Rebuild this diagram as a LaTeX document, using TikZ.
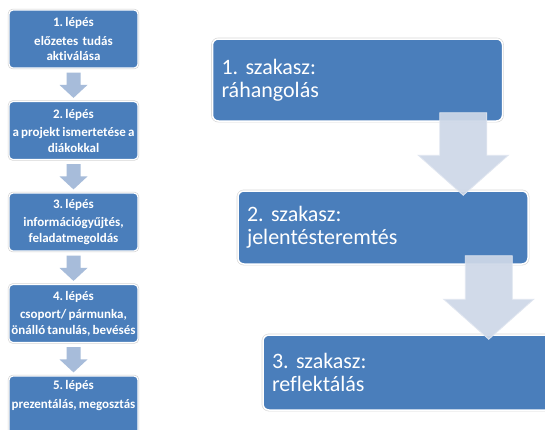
\documentclass[tikz,border=0pt]{standalone}
\usepackage{fontspec}
\setmainfont{Carlito}[Ligatures=NoCommon, WordSpace=0.75]
\usepackage{xcolor}
\usetikzlibrary{calc}

\definecolor{dobozkek}{RGB}{74,126,187}
\definecolor{kisnyilszin}{RGB}{167,188,218}
\definecolor{nagynyilszin}{RGB}{206,216,232}

\tikzset{
  lepesdoboz/.style={rectangle, rounded corners=4pt, fill=dobozkek, text=white,
    draw=white, line width=1.2pt, preaction={draw=black!18, line width=2.4pt},
    minimum width=129pt, minimum height=58pt, inner sep=1pt,
    font=\bfseries\fontsize{13}{15.5}\selectfont, align=center},
  szakaszdoboz/.style={rectangle, rounded corners=6pt, fill=dobozkek, text=white,
    draw=white, line width=1.5pt, preaction={draw=black!15, line width=2.8pt},
    text width=272pt, inner xsep=9pt, inner ysep=2pt,
    font=\fontsize{22}{23}\selectfont, align=left},
  kisnyil/.style={fill=kisnyilszin},
  nagynyil/.style={fill=nagynyilszin, fill opacity=0.93,
    draw={rgb,255:red,224;green,230;blue,240}, line width=0.8pt}
}

\begin{document}
\frenchspacing
\begin{tikzpicture}[x=1pt, y=1pt]
\useasboundingbox (0,0) rectangle (545,-429);
\fill[white] (0,0) rectangle (545,-429);

% lepesek
\node[lepesdoboz] (lepes1) at (73.5,-39) {1. lépés\\[3pt] előzetes\ \ tudás\\ aktiválása};
\node[lepesdoboz] (lepes2) at (73.5,-130.5) {2. lépés\\[3pt] a projekt ismertetése a\\ diákokkal};
\node[lepesdoboz] (lepes3) at (73.5,-222) {3. lépés\\[3pt] információgyűjtés,\\ feladatmegoldás};
\node[lepesdoboz] (lepes4) at (73.5,-313.5) {4. lépés\\[3pt] csoport/ pármunka,\\ önálló tanulás, bevésés};
\node[lepesdoboz] (lepes5) at (73.5,-405) {5. lépés\\[4pt] prezentálás, megosztás\\[6pt]};

\foreach \a/\b in {1/2,2/3,3/4,4/5} {
  \coordinate (ka\a) at ($(lepes\a.south)+(0,-4)$);
  \coordinate (kc\a) at ($(lepes\b.north)+(0,3)$);
  \fill[kisnyil] ($(ka\a)+(-7,0)$) -- ($(ka\a)+(7,0)$) -- ($(kc\a)+(7,13)$)
    -- ($(kc\a)+(14,13)$) -- (kc\a) -- ($(kc\a)+(-14,13)$) -- ($(kc\a)+(-7,13)$) -- cycle;
}

% szakaszok
\node[szakaszdoboz, minimum height=82pt] (szakasz1) at (357.5,-80) {1. szakasz:\\ ráhangolás};
\node[szakaszdoboz, minimum height=73pt] (szakasz2) at (383,-227.5) {2. szakasz:\\ jelentésteremtés};
\node[szakaszdoboz, minimum height=75pt] (szakasz3) at (408,-372.5) {3. szakasz:\\ reflektálás};

\foreach \a/\b in {1/2,2/3} {
  \coordinate (na\a) at ($(szakasz\a.south east)+(-40,9)$);
  \coordinate (nc\a) at ($(na\a |- szakasz\b.north)+(0,-5)$);
  \filldraw[nagynyil] ($(na\a)+(-23.5,0)$) -- ($(na\a)+(23.5,0)$) -- ($(nc\a)+(23.5,40)$)
    -- ($(nc\a)+(45,40)$) -- (nc\a) -- ($(nc\a)+(-45,40)$) -- ($(nc\a)+(-23.5,40)$) -- cycle;
}
\end{tikzpicture}
\end{document}
